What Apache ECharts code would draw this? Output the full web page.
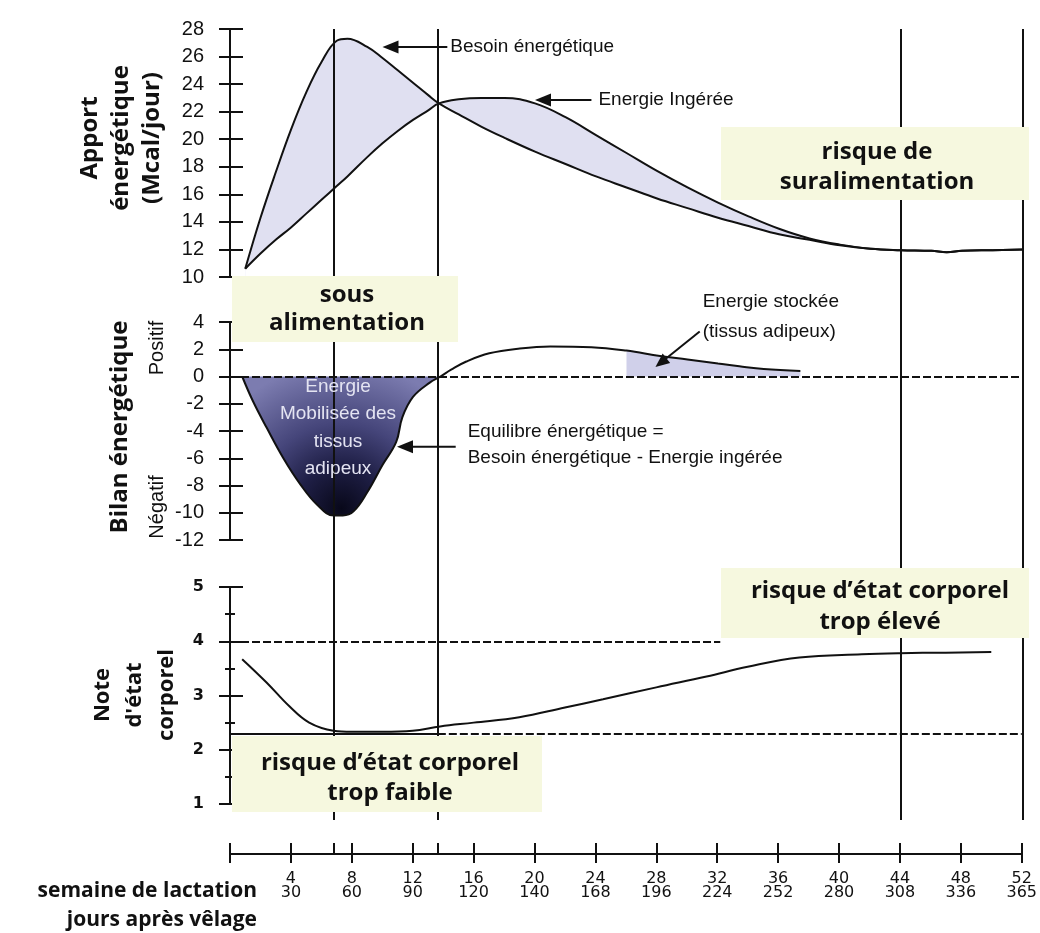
<!DOCTYPE html>
<html><head><meta charset="utf-8">
<script src="https://cdn.jsdelivr.net/npm/echarts@6/dist/echarts.min.js"></script>
<style>html,body{margin:0;padding:0;background:#fff}#c{width:1040px;height:933px}</style>
</head><body><div id="c"></div>
<script>
// ---------------- data ----------------
const topWeeks = [1,2,3,4,5,6,7,7.7,9,10,11,12,13,13.7,15,16.5,18,20,22,24,26,28,30,32,34,36,38,40,42,44,46,47,48,50,52];
const besoin   = [10.6,14.3,17.6,20.7,23.4,25.6,27.15,27.3,26.7,25.9,25.0,24.1,23.2,22.6,21.8,20.9,20.1,19.1,18.2,17.3,16.5,15.7,15.0,14.3,13.7,13.1,12.7,12.3,12.05,11.95,11.9,11.8,11.9,11.95,12.0];
const ingeree  = [10.6,11.7,12.7,13.6,14.6,15.6,16.6,17.3,18.7,19.7,20.6,21.4,22.1,22.6,22.9,23.0,23.0,22.6,21.6,20.3,19.0,17.7,16.5,15.4,14.4,13.5,12.8,12.35,12.05,11.95,11.9,11.8,11.9,11.95,12.0];

const balWeeks = [0.8,1.5,2.4,3.5,4.6,5.7,6.8,7.4,8.1,9.0,10.0,10.9,11.3,12.0,13.1,13.8,14.5,15.5,17,19,21,23.7,26,28.2,30,32,33.4,35,37.4];
const balance  = [0,-1.8,-3.75,-6.0,-7.9,-9.4,-10.2,-10.2,-9.9,-8.5,-6.5,-4.8,-3.0,-1.5,-0.45,0,0.5,1.1,1.7,2.05,2.2,2.15,1.9,1.5,1.25,0.95,0.75,0.55,0.4];

const bcsWeeks = [0.8,2.4,3.9,5.2,6.8,8,10,12,13.8,16,19,22,24.5,28,31.3,34,37.4,41.5,44,47,50];
const bcs      = [3.67,3.24,2.8,2.5,2.35,2.33,2.33,2.35,2.43,2.5,2.6,2.78,2.93,3.15,3.35,3.53,3.7,3.76,3.78,3.79,3.8];

const bcsHigh = 4, bcsHighEnd = 32.2, bcsLow = 2.3;
const periodWeeks = [6.8, 13.65, 44, 52];
const weekTicks = [4,8,12,16,20,24,28,32,36,40,44,48,52];
const dayLabels = ['30','60','90','120','140','168','196','224','252','280','308','336','365'];

const topTicks = [10,12,14,16,18,20,22,24,26,28];
const midTicks = [-12,-10,-8,-6,-4,-2,0,2,4];
const botTicks = [1,2,3,4,5];

// annotation anchors (data units): [tail, head]
const annBesoin    = [[14.25, 26.7], [10.0, 26.7]];
const annIngeree   = [[23.7, 22.85], [20.0, 22.85]];
const annStockee   = [[30.8, 3.3], [27.9, 0.7]];
const annEquilibre = [[14.8, -5.15], [10.95, -5.15]];

// ---------------- fonts ----------------
function fontAvailable(name){
  const c = document.createElement('canvas').getContext('2d');
  const s = 'mmmmmmmmmmlliWW0123456789';
  c.font = '40px monospace'; const a = c.measureText(s).width;
  c.font = '40px serif'; const b = c.measureText(s).width;
  c.font = '40px "' + name + '", monospace'; const a2 = c.measureText(s).width;
  c.font = '40px "' + name + '", serif'; const b2 = c.measureText(s).width;
  return a !== a2 || b !== b2;
}
const HAS_NARROW = fontAvailable('Liberation Sans Narrow');
const NF = HAS_NARROW ? 'Liberation Sans Narrow' : 'Liberation Sans';
function nsz(px){ return HAS_NARROW ? px : Math.round(px*0.82); }
function nfont(px, w){ return (w||'normal') + ' ' + nsz(px) + 'px "' + NF + '"'; }
const BOLD = 'bold 24px "Open Sans", "DejaVu Sans", sans-serif';

// ---------------- chart ----------------
const chart = echarts.init(document.getElementById('c'), null, {renderer:'canvas'});
const BLACK = '#111';
const L = 230, R = 17;
const SM = 0.4;

const bandMax = topWeeks.map((w,i)=>[w, Math.max(besoin[i], ingeree[i])]);
const bandMin = topWeeks.map((w,i)=>[w, Math.min(besoin[i], ingeree[i])]);
const balPts = balWeeks.map((w,i)=>[w, balance[i]]);
const negPts = balPts.filter(p=>p[0] <= 13.8);
const posPts = balPts.filter(p=>p[0] >= 26);

function yAxisPair(grid, min, max, interval, labelStyle, minor){
  const base = {gridIndex:grid, type:'value', min, max, interval, position:'left', splitLine:{show:false}};
  return [
    Object.assign({}, base, {
      axisLine:{show:true, onZero:false, lineStyle:{color:BLACK, width:2}},
      axisTick:{show:true, inside:false, length:11, lineStyle:{color:BLACK, width:2}},
      minorTick: minor ? {show:true, splitNumber:2, length:5, lineStyle:{color:BLACK, width:2}} : {show:false},
      axisLabel:Object.assign({margin:26, color:BLACK}, labelStyle)
    }),
    Object.assign({}, base, {
      axisLine:{show:false, onZero:false},
      axisTick:{show:true, inside:true, length:13, lineStyle:{color:BLACK, width:2}},
      minorTick: minor ? {show:true, splitNumber:2, length:5, lineStyle:{color:BLACK, width:2}} : {show:false},
      axisLabel:{show:false}
    })
  ];
}

const dashed = {color:BLACK, width:2, type:[8,3]};
const solid = {color:BLACK, width:2, type:'solid'};

const option = {
  animation:false,
  backgroundColor:'#fff',
  grid:[
    {left:L, right:R, top:29, height:248},
    {left:L, right:R, top:322, height:218},
    {left:L, right:R, top:587, height:217},
    {left:L, right:R, top:29, height:791}
  ],
  xAxis:[
    {gridIndex:0, type:'value', min:0, max:52, show:false},
    {gridIndex:1, type:'value', min:0, max:52, show:false},
    {gridIndex:2, type:'value', min:0, max:52, position:'bottom', offset:50,
      axisLine:{show:true, onZero:false, lineStyle:{color:BLACK, width:2}},
      axisTick:{show:true, inside:false, length:9, lineStyle:{color:BLACK, width:2}, customValues:[0].concat(weekTicks)},
      axisLabel:{customValues:weekTicks, margin:18, color:BLACK, fontFamily:'DejaVu Sans', fontSize:16, lineHeight:14,
        formatter:function(v){ const i = weekTicks.indexOf(v); return v + '\n' + (i>=0 ? dayLabels[i] : ''); }},
      splitLine:{show:false}},
    {gridIndex:2, type:'value', min:0, max:52, position:'bottom', offset:50,
      axisLine:{show:false, onZero:false},
      axisTick:{show:true, inside:true, length:11, lineStyle:{color:BLACK, width:2}, customValues:[0].concat(weekTicks, periodWeeks.slice(0,2))},
      axisLabel:{show:false}, splitLine:{show:false}},
    {gridIndex:3, type:'value', min:0, max:52, show:false}
  ],
  yAxis:[].concat(
    yAxisPair(0, topTicks[0], topTicks[topTicks.length-1], 2, {fontFamily:NF, fontSize:nsz(24)}),
    yAxisPair(1, midTicks[0], midTicks[midTicks.length-1], 2, {fontFamily:NF, fontSize:nsz(24)}),
    yAxisPair(2, botTicks[0], botTicks[botTicks.length-1], 1, {fontFamily:'DejaVu Sans', fontWeight:'bold', fontSize:16}, true),
    [{gridIndex:3, type:'value', min:0, max:1, show:false}]
  ),
  series:[
    // top panel band between curves: upper envelope filled, lower envelope masked in white
    {type:'line', xAxisIndex:0, yAxisIndex:0, data:bandMax, smooth:SM,
      symbol:'none', lineStyle:{width:0, opacity:0}, areaStyle:{color:'#e0e0f1', opacity:1, origin:'start'}, silent:true, z:1},
    {type:'line', xAxisIndex:0, yAxisIndex:0, data:bandMin, smooth:SM,
      symbol:'none', lineStyle:{width:0, opacity:0}, areaStyle:{color:'#ffffff', opacity:1, origin:'start'}, silent:true, z:2},
    {name:'Besoin énergétique', type:'line', xAxisIndex:0, yAxisIndex:0, data:topWeeks.map((w,i)=>[w,besoin[i]]),
      smooth:SM, symbol:'none', lineStyle:{color:BLACK, width:2}, z:5},
    {name:'Energie Ingérée', type:'line', xAxisIndex:0, yAxisIndex:0, data:topWeeks.map((w,i)=>[w,ingeree[i]]),
      smooth:SM, symbol:'none', lineStyle:{color:BLACK, width:2}, z:5},
    // middle panel fills
    {type:'line', xAxisIndex:1, yAxisIndex:2, data:negPts, smooth:SM, symbol:'none',
      lineStyle:{width:0, opacity:0}, silent:true, z:1,
      areaStyle:{opacity:1, origin:0, color:new echarts.graphic.RadialGradient(0.5, 0.95, 1.05, [
        {offset:0, color:'#08081a'}, {offset:0.3, color:'#1f1f46'}, {offset:0.58, color:'#45457a'}, {offset:1, color:'#7c7cb0'}])}},
    {type:'line', xAxisIndex:1, yAxisIndex:2, data:posPts, smooth:SM, symbol:'none',
      lineStyle:{width:0, opacity:0}, silent:true, z:1, areaStyle:{opacity:1, origin:0, color:'#d0d0ea'}},
    {name:'Bilan', type:'line', xAxisIndex:1, yAxisIndex:2, data:balPts, smooth:SM,
      symbol:'none', lineStyle:{color:BLACK, width:2}, z:5,
      markLine:{silent:true, symbol:['none','none'], label:{show:false}, animation:false,
        data:[[{coord:[0,0], lineStyle:dashed},{coord:[52,0]}]]}},
    // bottom panel
    {name:'BCS', type:'line', xAxisIndex:2, yAxisIndex:4, data:bcsWeeks.map((w,i)=>[w,bcs[i]]), smooth:SM,
      symbol:'none', lineStyle:{color:BLACK, width:2}, z:5,
      markLine:{silent:true, symbol:['none','none'], label:{show:false}, animation:false,
        data:[
          [{coord:[0,bcsHigh], lineStyle:dashed},{coord:[bcsHighEnd,bcsHigh]}],
          [{coord:[0,bcsLow], lineStyle:solid},{coord:[periodWeeks[1],bcsLow]}],
          [{coord:[periodWeeks[1],bcsLow], lineStyle:dashed},{coord:[52,bcsLow]}]
        ]}},
    // overlay vertical period lines
    {type:'line', xAxisIndex:4, yAxisIndex:6, data:[[0,5]], symbol:'none', lineStyle:{width:0, opacity:0}, silent:true, z:4,
      markLine:{silent:true, symbol:['none','none'], label:{show:false}, animation:false, lineStyle:solid,
        data:periodWeeks.map(w=>({xAxis:w}))}}
  ]
};
chart.setOption(option);

// ---------------- annotations / graphics ----------------
function px(ax, ay, pt){ return chart.convertToPixel({xAxisIndex:ax, yAxisIndex:ay}, pt); }
function txt(text, x, y, font, o){
  o = o || {};
  return {type:'text', x:x, y:y, z:o.z||130, rotation:o.rot||0,
    style:{text:text, font:font, fill:o.fill||BLACK, align:o.align||'left', verticalAlign:'middle',
      textAlign:o.align||'left', textVerticalAlign:'middle', lineHeight:o.lh||undefined}};
}
function arrow(tail, head, hl, hw){
  hl = hl||16; hw = hw||13;
  const dx = head[0]-tail[0], dy = head[1]-tail[1], Ln = Math.hypot(dx,dy), ux = dx/Ln, uy = dy/Ln;
  const bx = head[0]-ux*hl, by = head[1]-uy*hl, nx = -uy, ny = ux;
  return [
    {type:'line', z:125, shape:{x1:tail[0], y1:tail[1], x2:bx+ux*2, y2:by+uy*2}, style:{stroke:BLACK, lineWidth:2}},
    {type:'polygon', z:125, shape:{points:[head,[bx+nx*hw/2, by+ny*hw/2],[bx-nx*hw/2, by-ny*hw/2]]}, style:{fill:BLACK}}
  ];
}
function box(x,y,w,h){ return {type:'rect', z:100, shape:{x:x,y:y,width:w,height:h}, style:{fill:'#f6f8df'}}; }

const g = [];
// highlight boxes
g.push(box(232,276,226,66));
g.push(box(721,127,308,73));
g.push(box(721,568,308,70));
g.push(box(232,736,310,76));
g.push(txt('sous\nalimentation', 347, 309, BOLD, {align:'center', lh:28}));
g.push(txt('risque de\nsuralimentation', 877, 167, BOLD, {align:'center', lh:30}));
g.push(txt('risque d\u2019état corporel\ntrop élevé', 880, 607, BOLD, {align:'center', lh:31}));
g.push(txt('risque d\u2019état corporel\ntrop faible', 390, 778, BOLD, {align:'center', lh:30}));

// axis titles
g.push(txt('Apport\nénergétique\n(Mcal/jour)', 121, 138, BOLD, {align:'center', lh:31, rot:Math.PI/2}));
g.push(txt('Bilan énergétique', 120, 427, BOLD, {align:'center', rot:Math.PI/2}));
g.push(txt('Positif', 157, 348, '20px "Liberation Sans", sans-serif', {align:'center', rot:Math.PI/2}));
g.push(txt('Négatif', 157, 507, '20px "Liberation Sans", sans-serif', {align:'center', rot:Math.PI/2}));
g.push(txt("Note\nd'état\ncorporel", 135, 695, 'bold 22px "Open Sans", "DejaVu Sans", sans-serif', {align:'center', lh:32, rot:Math.PI/2}));
g.push(txt('semaine de lactation', 257, 891, 'bold 21px "Open Sans", "DejaVu Sans", sans-serif', {align:'right'}));
g.push(txt('jours après vêlage', 257, 920, 'bold 21px "Open Sans", "DejaVu Sans", sans-serif', {align:'right'}));

// text inside negative fill
g.push(txt('Energie\nMobilisée des\ntissus\nadipeux', 338, 428, nfont(23), {align:'center', lh:27.5, fill:'#e4e4f2', z:110}));

// annotation arrows
let t, h;
t = px(0,0,annBesoin[0]); h = px(0,0,annBesoin[1]);
g.push(...arrow(t,h)); g.push(txt('Besoin énergétique', t[0]+3, t[1], nfont(23)));
t = px(0,0,annIngeree[0]); h = px(0,0,annIngeree[1]);
g.push(...arrow(t,h)); g.push(txt('Energie Ingérée', t[0]+7, t[1], nfont(23)));
t = px(1,2,annStockee[0]); h = px(1,2,annStockee[1]);
g.push(...arrow(t,h,14,12)); g.push(txt('Energie stockée\n(tissus adipeux)', t[0]+3, t[1]-15, nfont(23), {lh:30}));
t = px(1,2,annEquilibre[0]); h = px(1,2,annEquilibre[1]);
g.push(...arrow(t,h)); g.push(txt('Equilibre énergétique =\nBesoin énergétique - Energie ingérée', t[0]+12, t[1]-2, nfont(23), {lh:26}));

chart.setOption({graphic:{elements:g}});
</script>
</body></html>
